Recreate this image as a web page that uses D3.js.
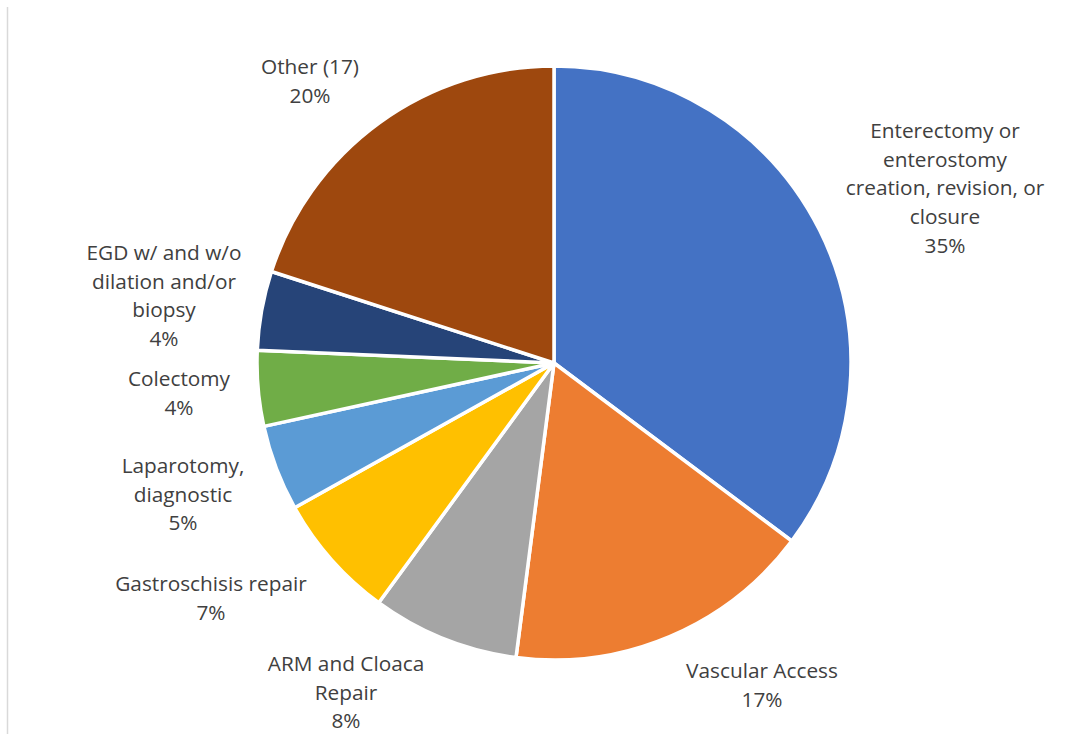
<!DOCTYPE html>
<html>
<head>
<meta charset="utf-8">
<script src="https://cdn.jsdelivr.net/npm/d3@7"></script>
<style>
  html, body { margin: 0; padding: 0; background: #fff; }
  svg { display: block; }
</style>
</head>
<body>
<script>
// Procedure categories, their shares (%) and slice colours
const categories = [
  "Enterectomy or enterostomy creation, revision, or closure",
  "Vascular Access",
  "ARM and Cloaca Repair",
  "Gastroschisis repair",
  "Laparotomy, diagnostic",
  "Colectomy",
  "EGD w/ and w/o dilation and/or biopsy",
  "Other (17)"
];
const shares = [35.2, 16.8, 8.0, 6.85, 4.67, 4.1, 4.3, 20.0];
const percentLabels = ["35%", "17%", "8%", "7%", "5%", "4%", "4%", "20%"];
const labelLines = [
  ["Enterectomy or", "enterostomy", "creation, revision, or", "closure"],
  ["Vascular Access"],
  ["ARM and Cloaca", "Repair"],
  ["Gastroschisis repair"],
  ["Laparotomy,", "diagnostic"],
  ["Colectomy"],
  ["EGD w/ and w/o", "dilation and/or", "biopsy"],
  ["Other (17)"]
];
const colors = ["#4472C4", "#ED7D31", "#A5A5A5", "#FFC000", "#5B9BD5", "#70AD47", "#264478", "#9E480E"];

const W = 1090, H = 734;
const cx = 554, cy = 363, R = 297;

// Label anchor points (centre x, centre y of first line)
const labelPos = [
  [945, 130], [762, 670], [346, 663], [211, 583],
  [183, 465], [179, 378], [164, 252], [310, 66]
];

const svg = d3.select("body").append("svg")
  .attr("width", W).attr("height", H);

// Thin frame line on the left
svg.append("line")
  .attr("x1", 7.5).attr("x2", 7.5).attr("y1", 7).attr("y2", H)
  .attr("stroke", "#d9d9d9").attr("stroke-width", 1.5);

const data = categories.map((c, i) => ({ name: c, value: shares[i], i }));

const pie = d3.pie().value(d => d.value).sort(null);
const arc = d3.arc().innerRadius(0).outerRadius(R);

const g = svg.append("g").attr("transform", `translate(${cx},${cy})`);
g.selectAll("path.slice")
  .data(pie(data))
  .join("path")
  .attr("class", "slice")
  .attr("d", arc)
  .attr("fill", d => colors[d.data.i])
  .attr("stroke", "#fff")
  .attr("stroke-width", 3.5)
  .attr("stroke-linejoin", "round");

// Category labels with percentage on the last line
const lineH = 28.7;
const labels = svg.append("g")
  .attr("font-family", "'Open Sans', 'Noto Sans', sans-serif")
  .attr("font-size", 20.8)
  .attr("fill", "#404040")
  .attr("text-anchor", "middle");

data.forEach((d, i) => {
  const lines = labelLines[i].concat([percentLabels[i]]);
  const [lx, ly] = labelPos[i];
  const t = labels.append("text")
    .attr("x", lx).attr("y", ly)
    .attr("dominant-baseline", "central");
  lines.forEach((s, k) => {
    t.append("tspan")
      .attr("x", lx)
      .attr("y", ly + k * lineH)
      .text(s);
  });
});
</script>
</body>
</html>
